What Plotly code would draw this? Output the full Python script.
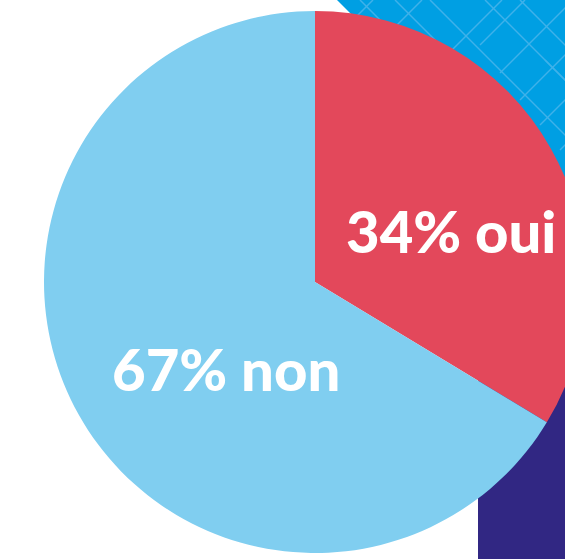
import plotly.graph_objects as go

labels = ["oui", "non"]
values = [34, 67]
colors = ["#E3485B", "#80CEF0"]

W, H = 600, 559

def px(x):
    return x / W

def py(y):
    return 1 - y / H

fig = go.Figure()
fig.add_trace(go.Pie(
    labels=labels, values=values, sort=False, direction="clockwise", rotation=0,
    marker=dict(colors=colors, line=dict(width=0)),
    textinfo="none", hoverinfo="skip", showlegend=False,
    domain=dict(x=[44 / W, 586 / W], y=[6 / H, 548 / H]),
))

shapes = []
# blue patterned background shape
shapes.append(dict(type="path", xref="paper", yref="paper", layer="below",
                   path=f"M {px(337)} {py(0)} L {px(W)} {py(0)} L {px(W)} {py(W-337)} Z",
                   fillcolor="#009FE3", line=dict(width=0)))
# pattern lines (decoration)
segs = [
    # "\" direction
    ((360, 0), (600, 240)),
    ((395, 0), (460, 65)),
    ((430, 0), (600, 170)),
    ((485, 0), (600, 115)),
    ((520, 0), (600, 80)),
    ((545, 60), (600, 115)),
    ((400, 40), (520, 160)),
    # "/" direction
    ((355, 18), (373, 0)),
    ((380, 42), (422, 0)),
    ((420, 82), (502, 0)),
    ((480, 45), (525, 0)),
    ((500, 73), (573, 0)),
    ((520, 100), (600, 20)),
    ((540, 125), (600, 65)),
    ((560, 150), (600, 110)),
]
for (x0, y0), (x1, y1) in segs:
    shapes.append(dict(type="line", xref="paper", yref="paper", layer="below",
                       x0=px(x0), y0=py(y0), x1=px(x1), y1=py(y1),
                       line=dict(color="#3FB1EA", width=1.5)))
# purple rectangle
shapes.append(dict(type="rect", xref="paper", yref="paper", layer="below",
                   x0=px(478), x1=1, y0=0, y1=py(300),
                   fillcolor="#312783", line=dict(width=0)))

annotations = []
pos = {"oui": (451, 231), "non": (226, 368)}
for lab, v in zip(labels, values):
    x, y = pos[lab]
    annotations.append(dict(text=f"{v}% {lab}", x=px(x), y=py(y),
                            xref="paper", yref="paper", showarrow=False,
                            xanchor="center", yanchor="middle",
                            font=dict(family="Lato", size=58, color="white", weight=900)))

fig.update_layout(width=W, height=H, margin=dict(l=0, r=0, t=0, b=0),
                  paper_bgcolor="white", plot_bgcolor="white",
                  shapes=shapes, annotations=annotations)

fig.write_html("out.html", config={"displayModeBar": False},
               post_script="document.documentElement.style.overflow='hidden';document.body.style.overflow='hidden';document.body.style.margin='0';")
